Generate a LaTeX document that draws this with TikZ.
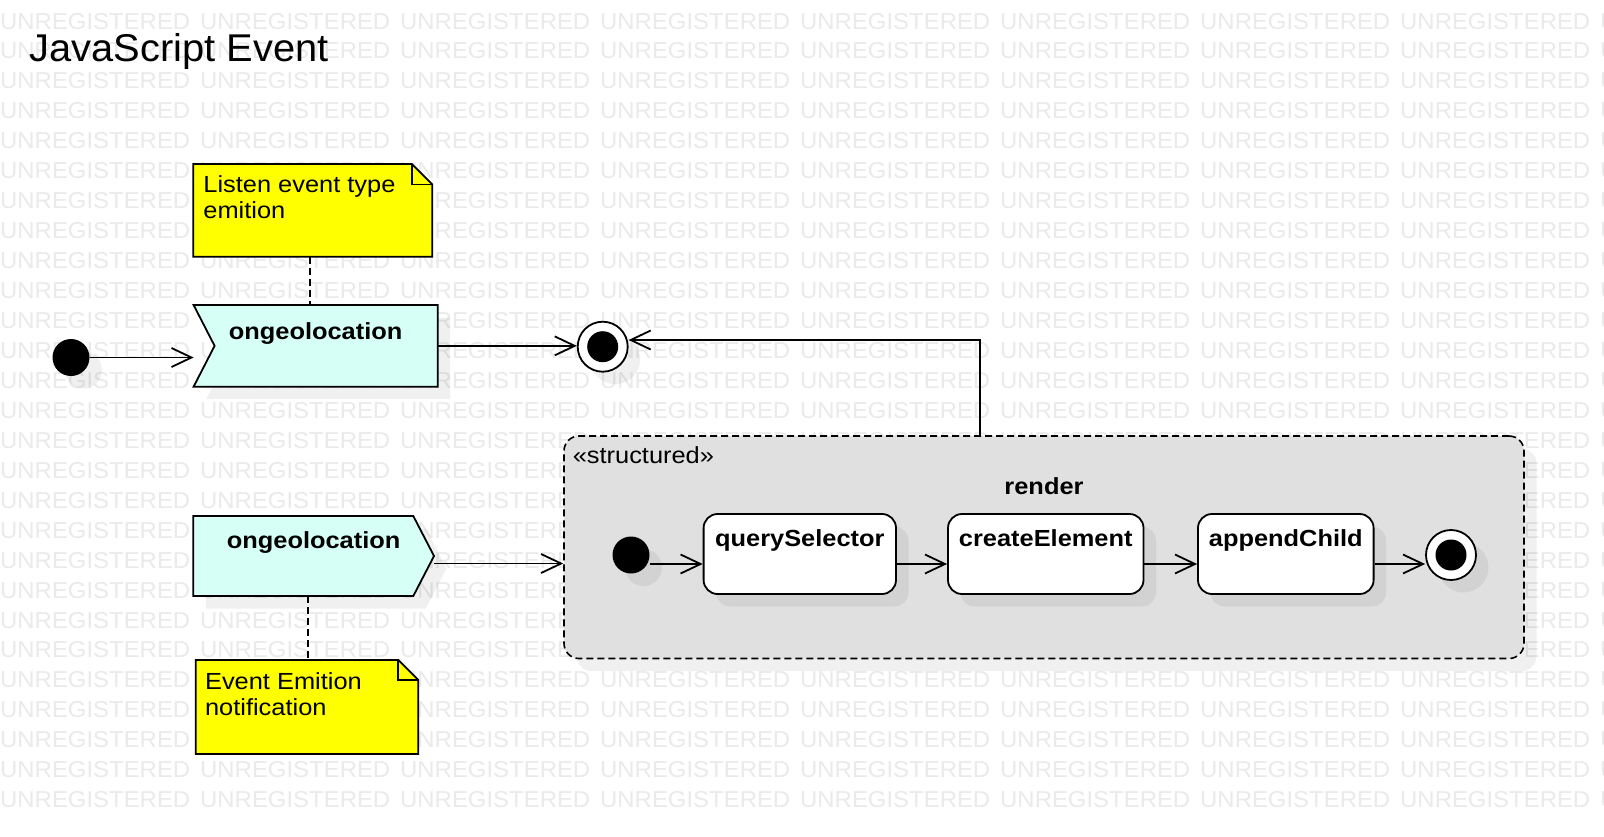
\documentclass[tikz,border=0pt]{standalone}
\usepackage{fontspec}
\setmainfont{Liberation Sans}
\newfontfamily\lblf[FakeStretch=1.09]{Liberation Sans}
\newfontfamily\wmf[FakeStretch=1.04]{Liberation Sans}
\newfontfamily\ttlf[FakeStretch=1.03]{Liberation Sans}
\usetikzlibrary{arrows.meta,shadows,calc}
\definecolor{sig}{RGB}{214,255,246}
\definecolor{notec}{RGB}{255,255,0}
\definecolor{regc}{RGB}{224,224,224}
\definecolor{wmc}{RGB}{234,234,234}
\begin{document}
\begin{tikzpicture}[x=1pt,y=-1pt,
  lw/.style={line width=1.8pt},
  arr/.style={line width=1.8pt,-{Straight Barb[length=20pt,width=19pt]}},
  dsh/.style={line width=1.8pt,dash pattern=on 7pt off 4pt},
  shd/.style={fill=black,opacity=0.06},
  shadowed/.style={drop shadow={shadow xshift=12.5pt,shadow yshift=-12.5pt,fill=black,opacity=0.06}},
  box/.style={rectangle,inner sep=0pt,outer sep=0pt,draw=none},
  lbl/.style={font=\lblf\bfseries\fontsize{23.3}{26}\selectfont,inner sep=0pt,anchor=base},
  txt/.style={font=\lblf\fontsize{23.3}{26}\selectfont,inner sep=0pt,anchor=base west},
  wm/.style={font=\wmf\fontsize{23}{26}\selectfont,text=wmc,inner sep=0pt,anchor=base west},
  dot/.style={circle,fill=black,minimum size=37pt,inner sep=0pt,shadowed},
  fin/.style={circle,draw,line width=1.8pt,fill=white,minimum size=50pt,inner sep=0pt,shadowed,
    path picture={\fill[black] (path picture bounding box.center) circle[radius=15.5pt];}},
  state/.style={rectangle,rounded corners=14pt,draw,line width=1.8pt,fill=white,minimum height=80pt,inner sep=0pt,shadowed}
]
\useasboundingbox[fill=white] (0,0) rectangle (1604,836);

% watermark
\foreach \k in {0,...,26}{
  \foreach \j in {0,...,8}{
    \node[wm] (wm-\j-\k) at ({200*\j},{29+29.95*\k}) {UNREGISTERED};
  }
}

% title
\node[font=\ttlf\fontsize{38.7}{44}\selectfont,inner sep=0pt,anchor=base west] (title) at (29.5,61) {JavaScript Event};

% render region
\node[rectangle,rounded corners=15pt,draw,line width=1.6pt,dash pattern=on 7pt off 4pt,fill=regc,
  minimum width=960pt,minimum height=222.5pt,inner sep=0pt,shadowed] (rg) at (1044,547.25) {};
\node[txt] (st) at (572.6,463.3) {«structured»};
\node[lbl] (rl) at (1044,494.3) {render};

% note 1
\node[box,minimum width=239pt,minimum height=92.7pt] (n1) at (312.8,210.35) {};
\draw[lw,fill=notec] (n1.north west) -- ([xshift=-20.5pt]n1.north east) -- ([yshift=-20.5pt]n1.north east)
  -- (n1.south east) -- (n1.south west) -- cycle;
\draw[lw] ([xshift=-20.5pt]n1.north east) -- ([xshift=-20.5pt,yshift=-20.5pt]n1.north east) -- ([yshift=-20.5pt]n1.north east);
\node[txt] (n1a) at (203.2,192.3) {Listen event type};
\node[txt] (n1b) at (203.2,218.3) {emition};

% accept event (top chevron)
\node[box,minimum width=244.1pt,minimum height=81.7pt] (acc) at (315.65,345.85) {};
\begin{scope}[transform canvas={shift={(12.5pt,-12.5pt)}}]
\fill[shd] (acc.north west) -- (acc.north east) -- (acc.south east) -- (acc.south west) -- ([xshift=21pt]acc.west) -- cycle;
\end{scope}
\draw[lw,fill=sig] (acc.north west) -- (acc.north east) -- (acc.south east) -- (acc.south west) -- ([xshift=21pt]acc.west) -- cycle;
\node[lbl] (accl) at (315.6,339.3) {ongeolocation};

% send signal (bottom chevron)
\node[box,minimum width=240.7pt,minimum height=80pt] (snd) at (313.65,556) {};
\begin{scope}[transform canvas={shift={(12.5pt,-12.5pt)}}]
\fill[shd] (snd.north west) -- ([xshift=-20.7pt]snd.north east) -- (snd.east) -- ([xshift=-20.7pt]snd.south east) -- (snd.south west) -- cycle;
\end{scope}
\draw[lw,fill=sig] (snd.north west) -- ([xshift=-20.7pt]snd.north east) -- (snd.east) -- ([xshift=-20.7pt]snd.south east) -- (snd.south west) -- cycle;
\node[lbl] (sndl) at (313.6,548.3) {ongeolocation};

% note 2
\node[box,minimum width=222.6pt,minimum height=94pt] (n2) at (307,707) {};
\draw[lw,fill=notec] (n2.north west) -- ([xshift=-20pt]n2.north east) -- ([yshift=-20pt]n2.north east)
  -- (n2.south east) -- (n2.south west) -- cycle;
\draw[lw] ([xshift=-20pt]n2.north east) -- ([xshift=-20pt,yshift=-20pt]n2.north east) -- ([yshift=-20pt]n2.north east);
\node[txt] (n2a) at (204.9,689.5) {Event Emition};
\node[txt] (n2b) at (204.9,715.5) {notification};

% initial / final states
\node[dot] (i1) at (71,357.5) {};
\node[fin] (f1) at (602.7,346.7) {};
\node[dot] (i2) at (631,555) {};
\node[fin] (f2) at (1451,555) {};

% inner states
\node[state,minimum width=192.4pt] (qs) at (799.8,554) {};
\node[state,minimum width=195.5pt] (ce) at (1045.75,554) {};
\node[state,minimum width=175.6pt] (ap) at (1285.8,554) {};
\node[lbl] (qsl) at (799.8,546.7) {querySelector};
\node[lbl] (cel) at (1045.75,546.7) {createElement};
\node[lbl] (apl) at (1285.8,546.7) {appendChild};

% dashed note links
\coordinate (d1) at (310,0);
\coordinate (d2) at (308.3,0);
\draw[dsh] (n1.south -| d1) -- (acc.north -| d1);
\draw[dsh] (snd.south -| d2) -- (n2.north -| d2);

% transitions
\coordinate (ly) at (0,564);
\coordinate (sy) at (0,563.5);
\coordinate (bend) at (980,340);
\draw[arr] (i1.east) -- (i1.east -| acc.west);
\draw[arr] (acc.east) -- (acc.east -| f1.west);
\draw[arr] (rg.north -| bend) -- (bend) -- (bend -| f1.east);
\draw[arr] (snd.east |- sy) -- (rg.west |- sy);
\draw[arr] (i2.east |- ly) -- (qs.west |- ly);
\draw[arr] (qs.east |- ly) -- (ce.west |- ly);
\draw[arr] (ce.east |- ly) -- (ap.west |- ly);
\draw[arr] (ap.east |- ly) -- (f2.west |- ly);
\end{tikzpicture}
\end{document}
